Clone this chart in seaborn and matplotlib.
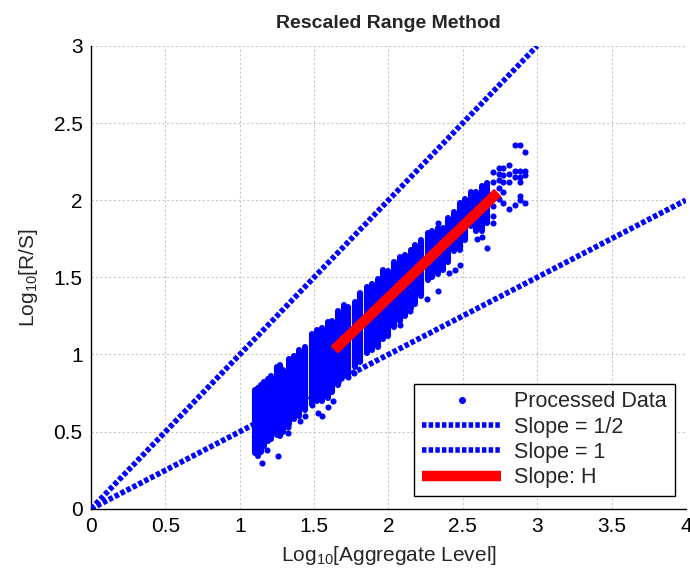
import numpy as np
import pandas as pd
import matplotlib
matplotlib.use("Agg")
import matplotlib.pyplot as plt
import seaborn as sns
from matplotlib.lines import Line2D

# ---- data ----
# dense columns of processed data: x, lowest and highest y of the solid band
col_x = [1.10, 1.12, 1.14, 1.165, 1.19, 1.21, 1.25, 1.27, 1.29, 1.33, 1.365, 1.40,
         1.44, 1.485, 1.52, 1.55, 1.59, 1.62, 1.66, 1.70, 1.73, 1.775, 1.81, 1.855,
         1.89, 1.93, 1.965, 2.00, 2.04, 2.08, 2.11, 2.15, 2.18, 2.22, 2.265, 2.29,
         2.33, 2.37, 2.40, 2.44, 2.48, 2.515, 2.555, 2.59, 2.63, 2.66]
col_lo = [0.36, 0.34, 0.37, 0.41, 0.44, 0.45, 0.48, 0.47, 0.50, 0.55, 0.58, 0.60,
          0.64, 0.68, 0.70, 0.70, 0.72, 0.76, 0.80, 0.86, 0.87, 0.92, 0.95, 1.01,
          1.03, 1.05, 1.10, 1.12, 1.18, 1.22, 1.25, 1.30, 1.33, 1.38, 1.48, 1.50,
          1.52, 1.55, 1.60, 1.67, 1.68, 1.74, 1.83, 1.80, 1.80, 1.85]
col_hi = [0.77, 0.78, 0.80, 0.82, 0.84, 0.86, 0.92, 0.93, 0.90, 0.97, 0.99, 1.03,
          1.05, 1.13, 1.16, 1.17, 1.21, 1.22, 1.28, 1.32, 1.31, 1.34, 1.40, 1.44,
          1.46, 1.49, 1.55, 1.54, 1.60, 1.63, 1.645, 1.68, 1.71, 1.74, 1.79, 1.80,
          1.82, 1.82, 1.885, 1.925, 1.98, 2.01, 2.05, 2.05, 2.09, 2.11]

# isolated points
pt_x = [1.15, 1.26, 1.18, 1.325, 1.325, 1.405, 1.44, 1.485, 1.525, 1.55, 1.59, 1.625,
        1.66, 1.67, 1.73, 1.77, 2.08, 2.145, 2.26, 2.33, 2.41, 2.45, 2.48, 2.595,
        2.63, 2.66, 2.33,
        2.70, 2.70, 2.70, 2.70, 2.70,
        2.74, 2.74, 2.74, 2.74, 2.74,
        2.77, 2.77, 2.77, 2.77, 2.77,
        2.81, 2.81, 2.81, 2.81,
        2.85, 2.85, 2.85, 2.85,
        2.885, 2.885, 2.885, 2.885, 2.885, 2.885,
        2.92, 2.92, 2.92, 2.92]
pt_y = [0.30, 0.34, 0.38, 0.53, 0.49, 0.57, 0.60, 0.67, 0.62, 0.60, 0.66, 0.70,
        0.82, 0.85, 0.855, 0.88, 1.19, 1.28, 1.36, 1.41, 1.53, 1.55, 1.58, 1.75,
        1.76, 1.69, 1.85,
        2.18, 2.12, 1.96, 1.90, 1.85,
        2.21, 2.17, 2.13, 2.08, 2.01,
        2.21, 2.16, 2.12, 2.05, 1.98,
        2.23, 2.17, 2.12, 1.94,
        2.36, 2.19, 2.15, 1.97,
        2.36, 2.19, 2.15, 2.12, 2.03, 2.00,
        2.31, 2.19, 2.16, 1.98]

half_x = [0, 4]
half_y = [0, 2]
one_x = [0, 3]
one_y = [0, 3]
h_x = [1.635, 2.735]
h_y = [1.03, 2.05]

x_ticks = [0, 0.5, 1, 1.5, 2, 2.5, 3, 3.5, 4]
y_ticks = [0, 0.5, 1, 1.5, 2, 2.5, 3]

# ---- style ----
sns.set_theme(style="white")
plt.rcParams['font.family'] = ['Liberation Sans', 'DejaVu Sans']
plt.rcParams['mathtext.default'] = 'regular'

fig = plt.figure(figsize=(6.9, 5.73), dpi=100)
ax = fig.add_axes([0.132, 0.112, 0.862, 0.808])

blue = "#0000ff"
msize = 4.4
dots = (0, (0.8, 0.4))

# dense columns as solid bands of markers
for cx, lo, hi in zip(col_x, col_lo, col_hi):
    ax.plot([cx, cx], [lo, hi], color=blue, lw=msize, solid_capstyle='round', zorder=2)

pts = pd.DataFrame({"x": pt_x, "y": pt_y})
sns.scatterplot(data=pts, x="x", y="y", ax=ax, color=blue, s=msize**2, linewidth=0, zorder=2)

d_half = pd.DataFrame({"x": half_x, "y": half_y})
d_one = pd.DataFrame({"x": one_x, "y": one_y})
d_h = pd.DataFrame({"x": h_x, "y": h_y})
sns.lineplot(data=d_half, x="x", y="y", ax=ax, color=blue, lw=4, linestyle=dots, zorder=3)
sns.lineplot(data=d_one, x="x", y="y", ax=ax, color=blue, lw=4, linestyle=dots, zorder=3)
sns.lineplot(data=d_h, x="x", y="y", ax=ax, color="#ff0000", lw=7.5, zorder=4,
             solid_capstyle='butt')

ax.set_xlim(0, 4)
ax.set_ylim(0, 3)
ax.set_xticks(x_ticks)
ax.set_yticks(y_ticks)
ax.set_xticklabels([f"{t:g}" for t in x_ticks])
ax.set_yticklabels([f"{t:g}" for t in y_ticks])
ax.tick_params(direction='in', length=4, width=1, labelsize=15, pad=6, colors='black')
ax.grid(True, linestyle=(0, (2, 2)), color='#c8c8c8', linewidth=0.8)
ax.set_axisbelow(True)
for s in ['top', 'right']:
    ax.spines[s].set_visible(False)
for s in ['left', 'bottom']:
    ax.spines[s].set_color('black')
    ax.spines[s].set_linewidth(1)

ax.set_xlabel("Log$_{10}$[Aggregate Level]", fontsize=15, labelpad=6)
ax.set_ylabel("Log$_{10}$[R/S]", fontsize=15, labelpad=10)
ax.set_title("Rescaled Range Method", fontsize=14, fontweight='bold', pad=13)

handles = [
    Line2D([], [], color=blue, marker='o', markersize=4, linestyle='none'),
    Line2D([], [], color=blue, lw=4, linestyle=dots),
    Line2D([], [], color=blue, lw=4, linestyle=dots),
    Line2D([], [], color="#ff0000", lw=7.5, solid_capstyle='butt'),
]
labels = ["Processed Data", "Slope = 1/2", "Slope = 1", "Slope: H"]
leg = ax.legend(handles, labels, loc='lower right', bbox_to_anchor=(0.981, 0.028),
                fontsize=15.5, frameon=True, fancybox=False, shadow=False,
                handlelength=3.7, borderpad=0.35, labelspacing=0.2, handletextpad=0.6,
                borderaxespad=0)
leg.get_frame().set_edgecolor('black')
leg.get_frame().set_linewidth(1)
leg.get_frame().set_alpha(1)

fig.savefig("out.png", dpi=100)
